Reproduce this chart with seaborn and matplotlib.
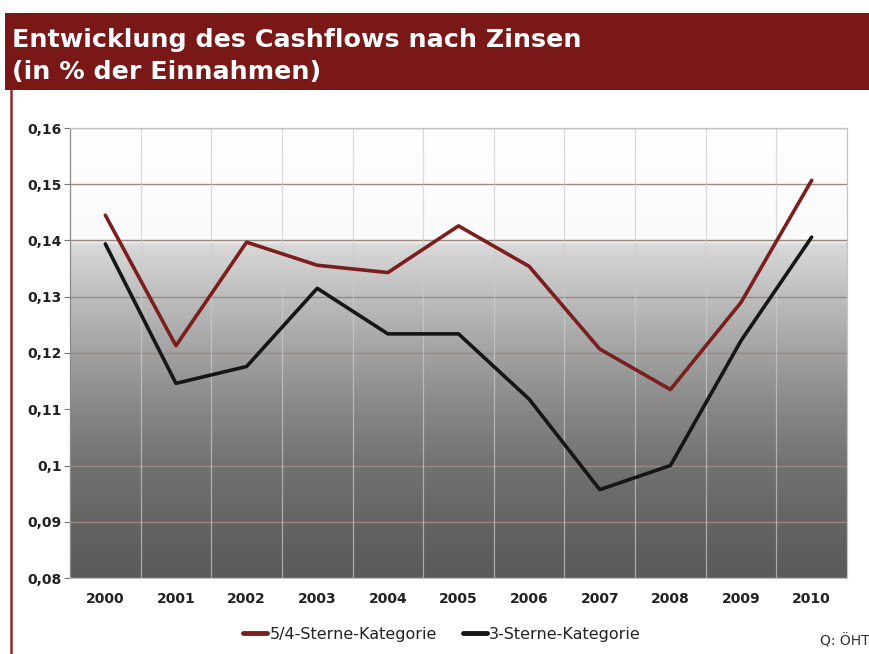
import numpy as np
import pandas as pd
import matplotlib
matplotlib.use("Agg")
import matplotlib.pyplot as plt
import seaborn as sns
from matplotlib.colors import LinearSegmentedColormap

# ---- data ----
years = [2000, 2001, 2002, 2003, 2004, 2005, 2006, 2007, 2008, 2009, 2010]
series_names = ["5/4-Sterne-Kategorie", "3-Sterne-Kategorie"]
vals_54 = [0.1445, 0.1213, 0.1397, 0.1356, 0.1343, 0.1426, 0.1354, 0.1207, 0.1135, 0.1290, 0.1507]
vals_3 = [0.1394, 0.1146, 0.1176, 0.1315, 0.1234, 0.1234, 0.1118, 0.0957, 0.1000, 0.1222, 0.1406]
y_ticks = [0.08, 0.09, 0.10, 0.11, 0.12, 0.13, 0.14, 0.15, 0.16]
y_tick_labels = ["0,08", "0,09", "0,1", "0,11", "0,12", "0,13", "0,14", "0,15", "0,16"]
title_line1 = "Entwicklung des Cashflows nach Zinsen"
title_line2 = "(in % der Einnahmen)"
source_text = "Q: ÖHT"

df = pd.DataFrame({
    "Jahr": years * 2,
    "Wert": vals_54 + vals_3,
    "Serie": [series_names[0]] * len(years) + [series_names[1]] * len(years),
})

sns.set_theme(style="white")
plt.rcParams["font.family"] = ["DejaVu Sans"]

RED = "#7a1e1e"
BLACK = "#161616"

fig = plt.figure(figsize=(8.7, 6.54), dpi=100)
fig.patch.set_facecolor("white")

# title band
band = fig.add_axes([0.006, 1 - 90 / 654, 0.994, 77 / 654])
band.set_facecolor("#7a1717")
band.set_xticks([]); band.set_yticks([])
for s in band.spines.values():
    s.set_visible(False)
for txt, ypx in [(title_line1, 40), (title_line2, 72)]:
    fig.text(12 / 870, 1 - ypx / 654, txt, color="white", fontsize=18.3,
             fontweight="bold", ha="left", va="center")

# left red border line
fig.add_artist(plt.Line2D([11 / 870, 11 / 870], [0, 1 - 90 / 654],
                          color="#8a2a2a", lw=1.8, transform=fig.transFigure))

ax = fig.add_axes([70 / 870, 1 - 578 / 654, 777 / 870, 450 / 654])

# background gradient
cmap = LinearSegmentedColormap.from_list("bg", [
    (0.0, "#5a5a5a"),
    (0.125, "#646464"),
    (0.25, "#727272"),
    (0.375, "#878787"),
    (0.5, "#a2a2a2"),
    (0.625, "#bdbdbd"),
    (0.74, "#d8d8d8"),
    (0.755, "#fafafa"),
    (1.0, "#ffffff"),
])
grad = np.linspace(0, 1, 400).reshape(-1, 1)
ax.imshow(grad, cmap=cmap, origin="lower", aspect="auto",
          extent=[1999.5, 2010.5, 0.08, 0.16], zorder=0)

sns.lineplot(data=df, x="Jahr", y="Wert", hue="Serie", ax=ax,
             palette={series_names[0]: RED, series_names[1]: BLACK},
             linewidth=2.6, legend=False, zorder=3)

ax.set_xlim(1999.5, 2010.5)
ax.set_ylim(0.08, 0.16)
ax.set_yticks(y_ticks)
ax.set_yticklabels(y_tick_labels)
ax.set_xticks(years)
ax.set_xticklabels([str(y) for y in years])
ax.set_xlabel("")
ax.set_ylabel("")

for yv in y_ticks:
    ax.axhline(yv, color="#9a8880", lw=1.0, zorder=1)
for xv in [2000.5 + i for i in range(10)]:
    ax.axvline(xv, color="#cccccc", lw=0.9, alpha=0.7, zorder=1)

ax.tick_params(axis="y", labelsize=10, colors="#222222", length=4, width=0.8,
               pad=2, left=True, color="#777777")
ax.tick_params(axis="x", which="major", labelsize=10, colors="#222222",
               length=0, pad=10)
for lab in ax.get_yticklabels() + ax.get_xticklabels():
    lab.set_fontweight("bold")
for s in ax.spines.values():
    s.set_color("#c4c4c4")
    s.set_linewidth(0.9)
ax.spines["left"].set_color("#8a8a8a")

# legend
handles = [plt.Line2D([], [], color=RED, lw=3.5),
           plt.Line2D([], [], color=BLACK, lw=3.5)]
leg = fig.legend(handles, series_names, loc="center", ncol=2,
                 bbox_to_anchor=(442 / 870, 1 - 634 / 654), frameon=False,
                 fontsize=11.5, handlelength=1.5, handletextpad=0.15,
                 columnspacing=1.6)
for t in leg.get_texts():
    t.set_color("#222222")

fig.text(820 / 870, 1 - 641 / 654, source_text, fontsize=10, color="#333333",
         ha="left", va="center")

fig.savefig("out.png", dpi=100)
